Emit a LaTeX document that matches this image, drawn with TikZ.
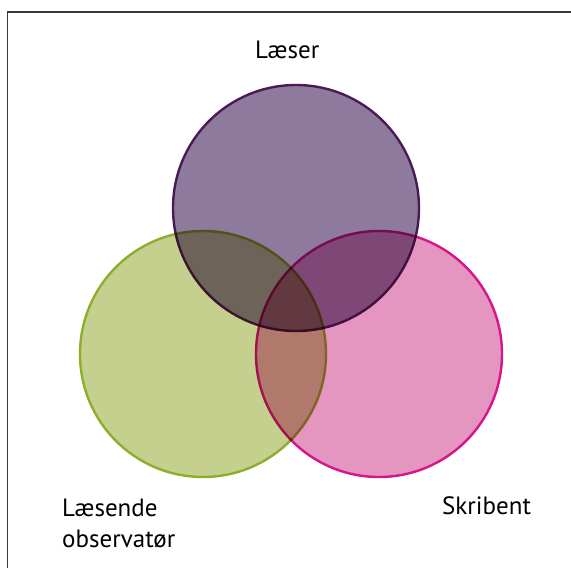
\documentclass[tikz,border=0pt]{standalone}
\usepackage{fontspec}
\setmainfont{PT Sans}
\definecolor{purpfill}{HTML}{8E7A9D}
\definecolor{purpline}{HTML}{4A1C55}
\definecolor{greenfill}{HTML}{C5D08F}
\definecolor{greenline}{HTML}{8DAE2C}
\definecolor{pinkfill}{HTML}{E495C0}
\definecolor{pinkline}{HTML}{D6158A}
\definecolor{framecol}{HTML}{3A3A3A}
\tikzset{
  setcircle/.style={circle, minimum size=246pt, inner sep=0pt, line width=2.4pt},
  lbl/.style={font=\fontsize{25}{31}\selectfont, inner sep=0pt, anchor=base west, align=left}
}
\begin{document}
\begin{tikzpicture}[x=1pt,y=-1pt]
\useasboundingbox (0,0) rectangle (571,568);
\begin{scope}
\clip (0,0) rectangle (571,568);
\draw[framecol, line width=1.4pt] (7.5,600) -- (7.5,12) -- (600,12);
\end{scope}
\begin{scope}[blend mode=multiply]
\begin{scope}[transparency group=knockout]
\node[setcircle, draw=greenline, fill=greenfill] (green) at (203,354) {};
\end{scope}
\begin{scope}[transparency group=knockout]
\node[setcircle, draw=pinkline, fill=pinkfill] (pink) at (379,354) {};
\end{scope}
\begin{scope}[transparency group=knockout]
\node[setcircle, draw=purpline, fill=purpfill] (purple) at (296,208) {};
\end{scope}
\end{scope}
\node[lbl] (laeser) at (255,58) {Læser};
\node[lbl] (skribent) at (442,514) {Skribent};
\node[lbl] (laesende) at (62,547) {Læsende\\observatør};
\end{tikzpicture}
\end{document}
